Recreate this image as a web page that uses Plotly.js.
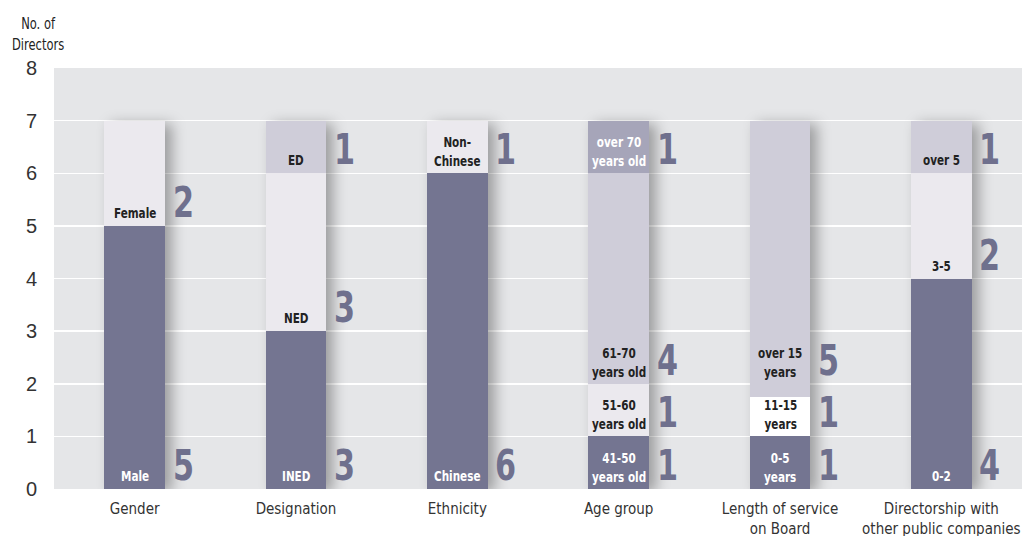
<!DOCTYPE html>
<html>
<head>
<meta charset="utf-8">
<script src="https://cdn.plot.ly/plotly-3.0.1.min.js"></script>
<style>
  html, body { margin: 0; padding: 0; background: #ffffff; }
  #chart { width: 1022px; height: 536px; }
  .barlayer { filter: drop-shadow(7px 3px 7px rgba(0,0,0,0.32)); }
  .annotation-text { transform-box: fill-box; transform-origin: center; transform: scaleX(0.8); }
</style>
</head>
<body>
<div id="chart"></div>
<script>
// ---- Data ----
const categories = ["Gender", "Designation", "Ethnicity", "Age group",
  "Length of service<br>on Board", "Directorship with<br>other public companies"];

// Segment labels, bottom to top, for each category
const segmentLabels = [
  ["Male", "Female"],
  ["INED", "NED", "ED"],
  ["Chinese", "Non-<br>Chinese"],
  ["41-50<br>years old", "51-60<br>years old", "61-70<br>years old", "over 70<br>years old"],
  ["0-5<br>years", "11-15<br>years", "over 15<br>years"],
  ["0-2", "3-5", "over 5"]
];
// Number of directors shown beside each segment
const segmentCounts = [
  [5, 2],
  [3, 3, 1],
  [6, 1],
  [1, 1, 4, 1],
  [1, 1, 5],
  [4, 2, 1]
];
// Segment heights as drawn in the reference
const segmentHeights = [
  [5, 2],
  [3, 3, 1],
  [6, 1],
  [1, 1, 4, 1],
  [1, 0.75, 5.25],
  [4, 2, 1]
];
const yTicks = [0, 1, 2, 3, 4, 5, 6, 7, 8];

// ---- Styles ----
const DARK = "#747591", LIGHT = "#ebe9ee", MID = "#cfcdd9", MIDDARK = "#a6a5b9", WHITE = "#ffffff";
const segmentColors = [
  [DARK, LIGHT],
  [DARK, LIGHT, MID],
  [DARK, LIGHT],
  [DARK, LIGHT, MID, MIDDARK],
  [DARK, WHITE, MID],
  [DARK, LIGHT, MID]
];
const NARROW = "DejaVu Sans Condensed, Liberation Sans Narrow, Arial Narrow, sans-serif";
const NUMCOLOR = "#6f708d";

// ---- Build traces: one per stack level ----
const maxLevels = Math.max(...segmentHeights.map(s => s.length));
const traces = [];
for (let lvl = 0; lvl < maxLevels; lvl++) {
  traces.push({
    type: "bar",
    x: categories,
    y: segmentHeights.map(s => (lvl < s.length ? s[lvl] : 0)),
    marker: { color: segmentColors.map(c => (lvl < c.length ? c[lvl] : "rgba(0,0,0,0)")), line: { width: 0 } },
    hoverinfo: "skip",
    showlegend: false
  });
}

// ---- Annotations: labels at the nominal base of each segment + counts beside ----
const annotations = [];
categories.forEach((cat, i) => {
  let base = 0;
  segmentCounts[i].forEach((n, j) => {
    const col = segmentColors[i][j];
    const txtColor = (col === DARK || col === MIDDARK) ? "#ffffff" : "#222222";
    annotations.push({
      x: cat, y: base, xref: "x", yref: "y",
      text: "<b>" + segmentLabels[i][j] + "</b>",
      showarrow: false, xanchor: "center", yanchor: "bottom",
      yshift: 2,
      font: { family: NARROW, size: 14.5, color: txtColor }
    });
    annotations.push({
      x: cat, y: base, xref: "x", yref: "y",
      text: "<b>" + n + "</b>",
      showarrow: false, xanchor: "left", yanchor: "bottom",
      xshift: 36, yshift: -3,
      font: { family: NARROW, size: 42, color: NUMCOLOR }
    });
    base += n;
  });
});
annotations.push({
  xref: "paper", yref: "paper",
  x: (38 - 54) / 968, y: 1 + (68 - 13) / 421,
  text: "No. of<br>Directors", showarrow: false,
  xanchor: "center", yanchor: "top", align: "center",
  font: { family: NARROW, size: 16, color: "#222222" }
});

const layout = {
  width: 1022, height: 536,
  margin: { l: 54, r: 0, t: 68, b: 47, pad: 0 },
  paper_bgcolor: "#ffffff",
  plot_bgcolor: "#e5e6e8",
  barmode: "stack",
  bargap: 0.622,
  showlegend: false,
  xaxis: {
    type: "category",
    showgrid: false, zeroline: false, showline: false,
    ticks: "", ticklabelstandoff: 9,
    tickfont: { family: NARROW, size: 15, color: "#333333" },
    fixedrange: true
  },
  yaxis: {
    range: [0, 8],
    tickvals: yTicks, ticktext: yTicks.map(String),
    showgrid: true, gridcolor: "#ffffff", gridwidth: 1.5,
    zeroline: false, showline: false,
    ticks: "", ticklabelstandoff: 16,
    tickfont: { family: "Liberation Sans, Arial, sans-serif", size: 20, color: "#333333" },
    fixedrange: true
  },
  annotations: annotations
};

Plotly.newPlot("chart", traces, layout, { displayModeBar: false, staticPlot: true });
</script>
</body>
</html>
